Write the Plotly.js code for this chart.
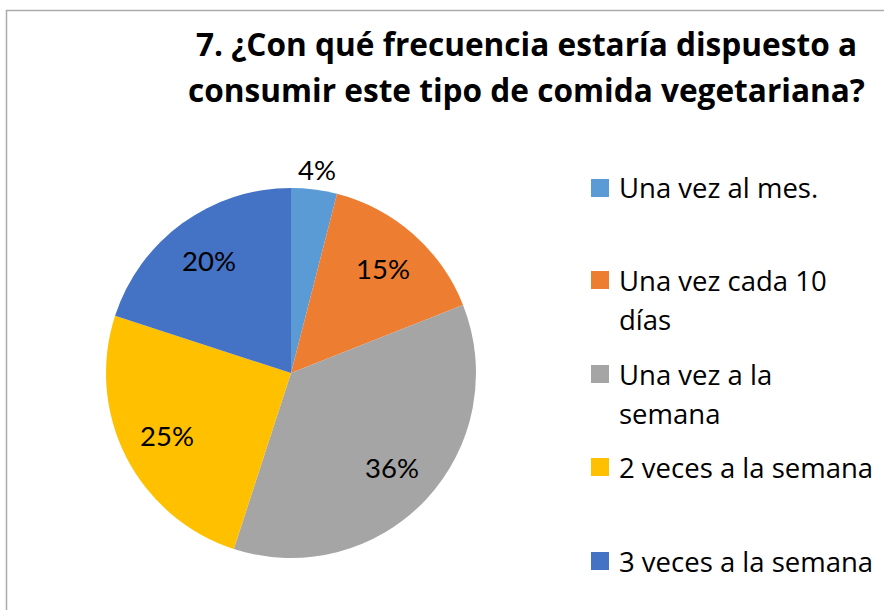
<!DOCTYPE html>
<html>
<head>
<meta charset="utf-8">
<script src="https://cdn.plot.ly/plotly-3.0.1.min.js"></script>
<style>html,body{margin:0;padding:0;background:#fff;}#chart{width:884px;height:610px;}</style>
</head>
<body>
<div id="chart"></div>
<script>
const titleLines = ["7. ¿Con qué frecuencia estaría dispuesto a", "consumir este tipo de comida vegetariana?"];
const categories = ["Una vez al mes.", "Una vez cada 10 días", "Una vez a la semana", "2 veces a la semana", "3 veces a la semana"];
const legendLines = [["Una vez al mes."], ["Una vez cada 10", "días"], ["Una vez a la", "semana"], ["2 veces a la semana"], ["3 veces a la semana"]];
const values = [4, 15, 36, 25, 20];
const colors = ["#5B9BD5", "#ED7D31", "#A5A5A5", "#FFC000", "#4472C4"];
const labelOutside = [true, false, false, false, false];

const W = 884, H = 610;
const FONT = "Lato, 'Open Sans', sans-serif";
const LFONT = "'Open Sans', Lato, sans-serif";
const cx = 291, cy = 373, r = 185;

const trace = {
  type: "pie",
  labels: categories,
  values: values,
  sort: false,
  direction: "clockwise",
  rotation: 0,
  marker: {colors: colors, line: {width: 0}},
  textinfo: "none",
  domain: {x: [(cx - r) / W, (cx + r) / W], y: [1 - (cy + r) / H, 1 - (cy - r) / H]},
  hoverinfo: "label+percent",
  showlegend: false
};

const annotations = [];
const shapes = [];

// data labels: placed at each slice's mid-angle, derived from the values
const total = values.reduce((a, b) => a + b, 0);
let cum = 0;
values.forEach((v, i) => {
  const mid = (cum + v / 2) / total * 2 * Math.PI;
  cum += v;
  const rr = labelOutside[i] ? 1.11 * r : 0.75 * r;
  const px = cx + rr * Math.sin(mid), py = cy - rr * Math.cos(mid);
  annotations.push({text: Math.round(v / total * 100) + "%", xref: "paper", yref: "paper",
    x: px / W, y: 1 - py / H, xanchor: "center", yanchor: "middle", showarrow: false,
    font: {family: FONT, size: 27.5, color: "#000"}});
});

const titleY = [43, 90];
titleLines.forEach((t, i) => {
  annotations.push({text: "<b>" + t + "</b>", xref: "paper", yref: "paper", x: 526 / W, y: 1 - titleY[i] / H,
    xanchor: "center", yanchor: "middle", showarrow: false, font: {family: LFONT, size: 31.6, color: "#000"}});
});
const itemY = [188, 280, 374, 467, 561];
const lineGap = 39;
legendLines.forEach((lines, i) => {
  shapes.push({type: "rect", xref: "paper", yref: "paper", x0: 591 / W, x1: 609 / W,
    y0: 1 - (itemY[i] + 9) / H, y1: 1 - (itemY[i] - 9) / H, fillcolor: colors[i], line: {width: 0}});
  lines.forEach((ln, j) => {
    annotations.push({text: ln, xref: "paper", yref: "paper", x: 617 / W, y: 1 - (itemY[i] + j * lineGap) / H,
      xanchor: "left", yanchor: "middle", showarrow: false, font: {family: LFONT, size: 27.5, color: "#000"}});
  });
});
shapes.push({type: "rect", xref: "paper", yref: "paper", x0: 6.5 / W, x1: 1.05, y0: -0.05, y1: 1 - 10.5 / H,
  line: {color: "#ABABAB", width: 1.5}, fillcolor: "rgba(0,0,0,0)", layer: "below"});

const layout = {
  width: W, height: H,
  margin: {l: 0, r: 0, t: 0, b: 0},
  paper_bgcolor: "#fff",
  showlegend: false,
  annotations: annotations,
  shapes: shapes,
  font: {family: FONT}
};
Plotly.newPlot("chart", [trace], layout, {displayModeBar: false, staticPlot: true});
</script>
</body>
</html>
